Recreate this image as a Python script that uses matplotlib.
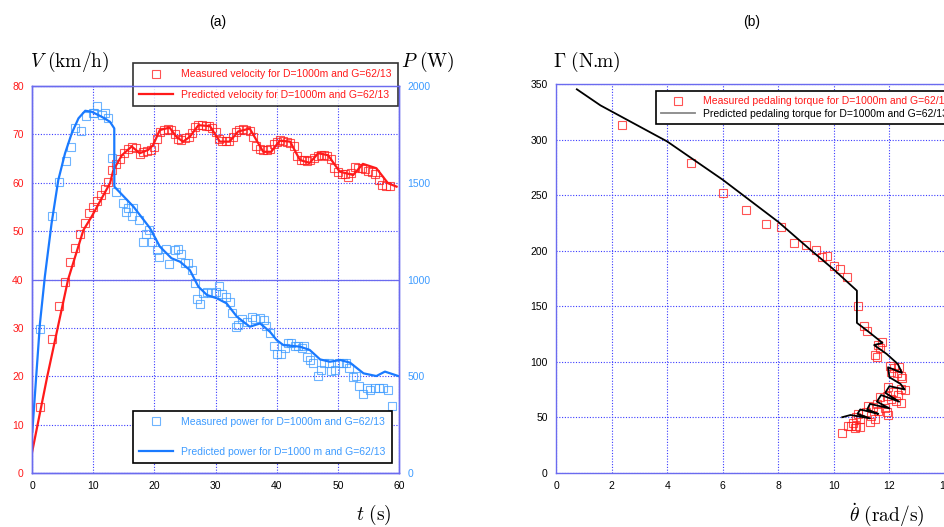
import matplotlib
matplotlib.use("Agg")
import matplotlib.pyplot as plt

plt.rcParams['font.family'] = ['Liberation Sans', 'DejaVu Sans']
plt.rcParams['mathtext.fontset'] = 'cm'

# ---- (a) velocity / power vs time ----
vel_t = [1.3, 3.2, 4.4, 5.4, 6.2, 7.0, 7.85, 8.7, 9.3, 10.0, 10.7, 11.3, 11.9, 12.5, 13.1, 13.7, 14.4, 15.0, 15.7,
         16.3, 17.0, 17.6, 18.2, 18.8, 19.4, 19.9, 20.5, 21.0, 21.6, 22.2, 22.8, 23.3, 23.9, 24.4, 25.0, 25.6, 26.1,
         26.7, 27.2, 27.8, 28.4, 28.9, 29.5, 30.0, 30.6, 31.1, 31.7, 32.2, 32.8, 33.4, 33.9, 34.5, 35.0, 35.6, 36.1,
         36.7, 37.2, 37.8, 38.4, 38.9, 39.5, 40.0, 40.6, 41.1, 41.7, 42.2, 42.8, 43.3, 43.9, 44.4, 45.0, 45.5, 46.1,
         46.7, 47.2, 47.8, 48.3, 48.9, 49.4, 50.0, 50.6, 51.1, 51.7, 52.2, 52.8, 53.3, 53.9, 54.4, 55.0, 55.6, 56.1,
         56.7, 57.2, 57.8, 58.5]
vel_meas = [13.7, 27.8, 34.5, 39.4, 43.6, 46.5, 49.4, 51.7, 53.7, 55.0, 56.2, 57.4, 58.8, 60.2, 62.6, 63.9, 65.0,
            66.2, 66.9, 67.3, 67.2, 66.0, 66.3, 66.6, 66.8, 67.4, 69.0, 70.5, 71.0, 71.2, 71.0, 70.0, 69.0, 68.8,
            69.2, 69.5, 70.2, 71.5, 72.0, 72.0, 71.8, 71.8, 71.3, 70.5, 69.0, 68.7, 68.7, 68.7, 69.5, 70.5, 71.0,
            71.2, 71.0, 70.6, 69.5, 67.5, 67.0, 66.8, 66.8, 67.0, 68.0, 68.5, 68.8, 68.6, 68.4, 68.2, 67.5, 65.5,
            64.8, 64.7, 64.5, 64.6, 65.2, 65.6, 65.8, 65.7, 65.6, 65.0, 63.0, 62.2, 61.8, 61.8, 61.2, 62.0, 63.2,
            63.0, 63.0, 62.8, 62.5, 62.2, 61.8, 60.5, 59.5, 59.3, 59.3]

vp_t = [0, 2.5, 5.9, 8.4, 9.75, 12.75, 13.3, 14.7, 16.3, 17.6, 19.0, 19.8, 20.9, 22.5, 23.6, 24.7, 25.8, 27.2, 29.1,
        30.7, 32.3, 33.7, 35.6, 36.7, 37.8, 39.1, 40.5, 42.2, 43.8, 45.4, 46.8, 48.4, 50.3, 52.5, 54.1, 56.3, 58.2, 59.6]
vel_pred = [4.2, 20.0, 40.0, 50.2, 53.0, 59.9, 62.6, 65.7, 67.5, 66.1, 66.8, 67.8, 70.9, 71.4, 69.5, 68.5, 69.5,
            71.9, 71.7, 68.5, 68.5, 70.6, 71.2, 68.8, 66.4, 66.4, 68.7, 68.5, 64.7, 64.1, 66.1, 65.7, 62.3, 61.6,
            63.9, 63.0, 59.9, 59.2]

pm_t = [1.3, 3.2, 4.4, 5.5, 6.3, 7.1, 7.95, 8.8, 10.0, 10.2, 10.7, 11.4, 11.9, 12.5, 13.0, 13.8, 14.9, 15.4, 15.7,
        16.3, 16.5, 17.5, 18.2, 18.6, 19.2, 19.7, 20.4, 20.8, 21.9, 22.4, 23.3, 23.9, 24.4, 25.0, 25.5, 26.1, 26.6,
        27.0, 27.4, 27.9, 28.6, 29.3, 30.0, 30.6, 31.1, 31.7, 32.3, 32.7, 33.3, 33.7, 34.4, 35.1, 35.9, 36.4, 37.2,
        37.9, 38.3, 38.9, 39.5, 40.1, 40.7, 41.3, 41.8, 42.4, 43.0, 43.5, 44.1, 44.4, 44.9, 45.5, 46.0, 46.8, 47.2,
        47.8, 48.6, 48.9, 49.5, 50.2, 50.9, 51.4, 51.9, 52.4, 53.0, 53.5, 54.1, 54.7, 55.2, 56.0, 56.7, 57.4, 58.2, 58.8]
pow_meas = [742, 1328, 1506, 1612, 1687, 1781, 1767, 1845, 1859, 1860, 1897, 1850, 1860, 1835, 1626, 1454, 1394,
            1350, 1370, 1330, 1370, 1306, 1194, 1237, 1255, 1194, 1150, 1116, 1160, 1078, 1150, 1160, 1133, 1085,
            1085, 1047, 981, 898, 872, 932, 937, 929, 933, 968, 924, 909, 886, 826, 757, 766, 795, 778, 805, 795,
            800, 791, 760, 726, 657, 616, 616, 645, 674, 671, 657, 654, 645, 657, 602, 585, 568, 499, 534, 568, 568,
            525, 534, 568, 568, 568, 542, 494, 503, 451, 408, 439, 430, 439, 439, 439, 430, 347]

pp_t = [0.05, 1.3, 2.1, 3.2, 4.3, 5.4, 6.5, 7.6, 8.7, 9.75, 11.4, 12.75, 13.45, 13.46, 16.6, 19.3, 20.9, 22.8, 24.2,
        25.8, 27.2, 28.6, 30.2, 31.8, 33.5, 35.6, 37.3, 38.9, 40.0, 41.1, 43.8, 45.4, 47.1, 48.7, 50.4, 52.0, 54.2,
        56.3, 57.7, 59.9]
pow_pred = [213, 773, 1015, 1290, 1514, 1652, 1756, 1833, 1872, 1867, 1841, 1815, 1781, 1480, 1376, 1265, 1170,
            1110, 1092, 1049, 963, 920, 903, 877, 808, 756, 773, 730, 687, 661, 653, 636, 587, 575, 584, 570, 515,
            501, 524, 501]

# ---- (b) torque vs pedaling rate ----
tq_th = [2.39, 4.87, 6.01, 6.85, 7.57, 8.1, 8.58, 9.0, 9.34, 9.58, 9.77, 9.99, 10.23, 10.49, 10.88, 11.07, 11.2,
         11.73, 11.6, 11.65, 11.49, 11.55, 12.02, 12.17, 12.35, 12.07, 12.28, 12.4, 12.46, 12.4, 12.55, 11.96, 12.12,
         12.3, 11.9, 11.66, 12.07, 12.4, 12.22, 11.55, 11.41, 11.83, 11.9, 11.23, 11.59, 11.95, 11.17, 11.35, 11.47,
         11.29, 10.87, 10.8, 10.93, 10.7, 10.5, 10.8, 10.93, 10.75, 10.3, 10.63]
tq_meas = [313.7, 279.3, 252.2, 236.5, 224.5, 221.5, 207, 205.5, 200.4, 194.4, 195, 186.6, 183.6, 176.4, 150.5,
           131.8, 128, 117.4, 115, 112, 106, 104, 96, 94, 95, 90.5, 89.5, 87.5, 85.5, 75, 74.5, 77.5, 73, 70, 69.5,
           68.5, 66, 63, 65, 62, 59, 58, 55, 60.5, 56, 52, 54.5, 51.5, 48.5, 45.5, 53, 50, 48.5, 45, 42.5, 42, 41.5,
           40, 35.5, 42.5]

tp_th = [0.75, 1.6, 4.0, 6.0, 8.0, 9.15, 10.0, 10.83, 10.83, 11.25, 11.75, 11.45, 11.9, 12.3, 12.45, 11.95, 12.0,
         12.4, 12.55, 12.0, 11.85, 12.35, 11.7, 11.55, 12.0, 11.3, 11.2, 11.6, 10.95, 10.85, 11.3, 10.6, 10.3]
tq_pred = [345.5, 331, 298.5, 264, 226, 201, 183, 164, 135, 127, 117, 115, 107, 98, 90, 95, 86, 80, 75, 78, 72, 64,
           70, 64, 58, 62, 57, 53, 57, 53, 49, 52, 50]

RED = '#ff1a1a'
BLUE = '#1a7aff'
BLUE_LT = '#3d9bff'
SPINE = '#6b6bef'
GRID = '#3b3bff'

fig = plt.figure(figsize=(9.44, 5.27), dpi=100)


def style_axes(ax):
    for s in ax.spines.values():
        s.set_color(SPINE)
        s.set_linewidth(1.0)
    ax.tick_params(length=0, pad=6, labelsize=7.5)


# panel (a)
ax = fig.add_axes([32 / 944, 1 - 473 / 527, 367 / 944, 387 / 527])
ax.set_xlim(0, 60)
ax.set_ylim(0, 80)
ax.set_xticks(range(0, 61, 10))
ax.set_yticks(range(0, 81, 10))
ax.grid(True, color=GRID, linestyle=(0, (1, 1.5)), linewidth=0.8)
ax.axhline(40, color=SPINE, linewidth=0.9)
style_axes(ax)
ax.tick_params(axis='y', labelcolor=RED)

ax.plot(vel_t, vel_meas, 's', mfc='none', mec=RED, ms=6, mew=0.8, alpha=0.75,
        label='Measured velocity for D=1000m and G=62/13')
ax.plot(vp_t, vel_pred, '-', color=RED, lw=1.6,
        label='Predicted velocity for D=1000m and G=62/13')

ax2 = ax.twinx()
ax2.set_ylim(0, 2000)
ax2.set_yticks(range(0, 2001, 500))
style_axes(ax2)
ax2.tick_params(axis='y', labelcolor=BLUE_LT)
ax2.plot(pm_t, pow_meas, 's', mfc='none', mec=BLUE_LT, ms=6, mew=0.8, alpha=0.75,
         label='Measured power for D=1000m and G=62/13')
ax2.plot(pp_t, pow_pred, '-', color=BLUE, lw=1.6,
         label='Predicted power for D=1000 m and G=62/13')

leg1 = ax.legend(loc='upper left', bbox_to_anchor=(133 / 944, 1 - 63 / 527), bbox_transform=fig.transFigure,
                 borderaxespad=0, fontsize=7.5, frameon=True, fancybox=False, edgecolor='black',
                 handlelength=3.2, labelspacing=1.0, borderpad=0.6, labelcolor=RED)
leg1.get_frame().set_linewidth(1.2)
leg1.set_zorder(20)

leg2 = ax2.legend(loc='lower left', bbox_to_anchor=(133 / 944, 1 - 463 / 527), bbox_transform=fig.transFigure,
                  borderaxespad=0, fontsize=7.5, frameon=True, fancybox=False, edgecolor='black',
                  handlelength=3.2, labelspacing=1.9, borderpad=0.6, labelcolor=BLUE_LT, framealpha=1)
leg2.get_frame().set_linewidth(1.2)

fig.text(30 / 944, 1 - 62 / 527, r'$V\ \mathrm{(km/h)}$', fontsize=14, va='center', ha='left')
fig.text(401 / 944, 1 - 62 / 527, r'$P\ \mathrm{(W)}$', fontsize=14, va='center', ha='left')
fig.text(392 / 944, 1 - 515 / 527, r'$t\ \mathrm{(s)}$', fontsize=14, va='center', ha='right')
fig.text(218 / 944, 1 - 22 / 527, '(a)', fontsize=10, ha='center', va='center')

# panel (b)
bx = fig.add_axes([556 / 944, 1 - 472.7 / 527, 389 / 944, 388.4 / 527])
bx.set_xlim(0, 14)
bx.set_ylim(0, 350)
bx.set_xticks(range(0, 15, 2))
bx.set_yticks(range(0, 351, 50))
bx.grid(True, color=GRID, linestyle=(0, (1, 1.5)), linewidth=0.8)
style_axes(bx)

bx.plot(tq_th, tq_meas, 's', mfc='none', mec=RED, ms=6, mew=0.8, alpha=0.75,
        label='Measured pedaling torque for D=1000m and G=62/13')
bx.plot(tp_th, tq_pred, '-', color='black', lw=1.3,
        label='Predicted pedaling torque for D=1000m and G=62/13')

leg3 = bx.legend(loc='upper left', bbox_to_anchor=(656 / 944, 1 - 91 / 527), bbox_transform=fig.transFigure,
                 borderaxespad=0, fontsize=7.5, frameon=True, fancybox=False, edgecolor='black',
                 handlelength=3.2, labelspacing=0.25, borderpad=0.5, framealpha=1)
leg3.get_frame().set_linewidth(1.2)
txts = leg3.get_texts()
txts[0].set_color(RED)
leg3.get_lines()[1].set_color('#888888')

fig.text(553 / 944, 1 - 62 / 527, r'$\Gamma\ \mathrm{(N.\!\!m)}$', fontsize=14, va='center', ha='left')
fig.text(925 / 944, 1 - 515 / 527, r'$\dot{\theta}\ \mathrm{(rad/s)}$', fontsize=14, va='center', ha='right')
fig.text(752 / 944, 1 - 22 / 527, '(b)', fontsize=10, ha='center', va='center')

fig.savefig('out.png', dpi=100)
